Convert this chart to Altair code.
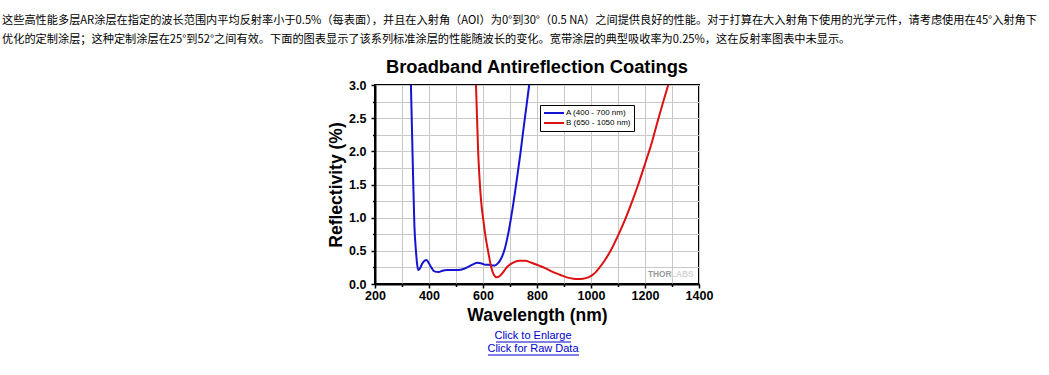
import altair as alt
import pandas as pd

# Series A (400 - 700 nm)
a_wl = [333, 336, 340, 346, 352, 356, 360, 366, 374, 383, 391, 400, 410, 420, 435, 450, 466,
        490, 509, 530, 550, 565, 579, 595, 610, 620, 635, 644, 655, 669, 680, 694, 710, 725,
        738, 749, 760, 771]
a_r = [3.0, 2.5, 1.8, 0.87, 0.48, 0.3, 0.21, 0.23, 0.3, 0.35, 0.36, 0.31, 0.24, 0.19, 0.18,
       0.20, 0.21, 0.21, 0.21, 0.23, 0.27, 0.30, 0.32, 0.31, 0.29, 0.29, 0.28, 0.28, 0.31,
       0.40, 0.52, 0.77, 1.15, 1.57, 1.95, 2.31, 2.65, 3.0]

# Series B (650 - 1050 nm)
b_wl = [574, 578, 582, 587, 593, 601, 610, 620, 630, 640, 651, 662, 675, 690, 710, 735, 756,
        780, 805, 830, 860, 885, 910, 935, 953, 970, 990, 1010, 1030, 1050, 1075, 1100, 1125,
        1150, 1175, 1200, 1225, 1250, 1270, 1286]
b_r = [3.0, 2.5, 2.0, 1.6, 1.25, 0.97, 0.7, 0.47, 0.26, 0.14, 0.10, 0.12, 0.18, 0.26, 0.32,
       0.35, 0.35, 0.32, 0.28, 0.24, 0.18, 0.14, 0.10, 0.08, 0.075, 0.08, 0.10, 0.15, 0.24,
       0.35, 0.52, 0.73, 0.96, 1.22, 1.5, 1.81, 2.13, 2.5, 2.78, 3.0]

series_names = ["A (400 - 700 nm)", "B (650 - 1050 nm)"]
series_colors = ["#1414d2", "#dd1111"]

x_ticks = list(range(200, 1401, 100))
y_ticks = [i * 0.25 for i in range(13)]

intro_lines = [
    "这些高性能多层AR涂层在指定的波长范围内平均反射率小于0.5%（每表面），并且在入射角（AOI）为0°到30°（0.5 NA）之间提供良好的性能。对于打算在大入射角下使用的光学元件，请考虑使用在45°入射角下",
    "优化的定制涂层；这种定制涂层在25°到52°之间有效。下面的图表显示了该系列标准涂层的性能随波长的变化。宽带涂层的典型吸收率为0.25%，这在反射率图表中未显示。",
]
link_lines = ["Click to Enlarge", "Click for Raw Data"]
chart_title = "Broadband Antireflection Coatings"

rows = []
for w, r in zip(a_wl, a_r):
    rows.append({"wl": w, "r": r, "s": series_names[0], "o": len(rows)})
for w, r in zip(b_wl, b_r):
    rows.append({"wl": w, "r": r, "s": series_names[1], "o": len(rows)})
df = pd.DataFrame(rows)

W, H = 324, 199
PL, PT = 375, 85

lines = alt.Chart(df).mark_line(strokeWidth=2, interpolate="monotone").encode(
    x=alt.X("wl:Q", scale=alt.Scale(domain=[200, 1400], nice=False),
            axis=alt.Axis(values=x_ticks, title="Wavelength (nm)",
                          labelExpr="datum.value % 200 == 0 ? datum.label : ''",
                          format="d", labelFlush=False, labelOverlap=False,
                          tickSize={"condition": {"test": "datum.value % 200 == 0", "value": 4}, "value": 2.5},
                          labelPadding=1, titlePadding=5)),
    y=alt.Y("r:Q", scale=alt.Scale(domain=[0, 3], nice=False),
            axis=alt.Axis(values=y_ticks, title="Reflectivity (%)",
                          labelExpr="datum.value % 0.5 == 0 ? format(datum.value, '.1f') : ''",
                          labelFlush=False, labelOverlap=False,
                          tickSize={"condition": {"test": "datum.value % 0.5 == 0", "value": 4}, "value": 2.5},
                          labelPadding=5, titlePadding=3)),
    color=alt.Color("s:N", scale=alt.Scale(domain=series_names, range=series_colors),
                    legend=alt.Legend(orient="none", legendX=165, legendY=20, title=None,
                                      symbolType="stroke", symbolSize=400, symbolStrokeWidth=2,
                                      labelFontSize=8, labelFont="Liberation Sans",
                                      strokeColor="black", fillColor="white",
                                      clipHeight=10, padding=3, rowPadding=0, labelOffset=1)),
    order="o:Q",
)

title_df = pd.DataFrame({"t": [chart_title]})
title_mark = alt.Chart(title_df).mark_text(font="Liberation Sans", fontWeight="bold", fontSize=18.3,
                                           align="center", baseline="middle", color="black").encode(
    x=alt.value(W / 2), y=alt.value(-17), text="t:N")

intro_df = pd.DataFrame({"t": intro_lines, "yy": [21 - PT, 40 - PT]})
intro_mark = alt.Chart(intro_df).mark_text(font="Noto Sans CJK SC", fontSize=11.2, align="left",
                                           baseline="middle", color="black").encode(
    x=alt.value(2 - PL), y=alt.Y("yy:Q", scale=None), text="t:N")

link_df = pd.DataFrame({"t": link_lines, "yy": [336 - PT, 349 - PT]})
link_mark = alt.Chart(link_df).mark_text(font="Liberation Sans", fontSize=11, align="center",
                                         baseline="middle", color="#0000cc").encode(
    x=alt.value(533 - PL), y=alt.Y("yy:Q", scale=None), text="t:N")

ul_df = pd.DataFrame({"x1": [496 - PL, 488 - PL], "x2": [571 - PL, 579 - PL], "yy": [342 - PT, 355 - PT]})
ul_mark = alt.Chart(ul_df).mark_rule(color="#0000cc", strokeWidth=1).encode(
    x=alt.X("x1:Q", scale=None), x2="x2:Q", y=alt.Y("yy:Q", scale=None))

wm_df = pd.DataFrame({"t": ["THOR", "LABS"], "c": ["#9a9a9a", "#d4d4d4"], "dx": [273, 296]})
wm_mark = alt.Chart(wm_df).mark_text(font="Liberation Sans", fontWeight="bold", fontSize=8.3,
                                     align="left", baseline="middle").encode(
    x=alt.X("dx:Q", scale=None), y=alt.value(190), text="t:N",
    color=alt.Color("c:N", scale=None))

chart = alt.layer(lines, title_mark, intro_mark, link_mark, ul_mark, wm_mark).resolve_scale(
    x="independent", y="independent", color="independent"
).properties(
    width=W, height=H,
    autosize=alt.AutoSizeParams(type="none"),
    padding={"left": PL, "top": PT, "right": 1049 - PL - W, "bottom": 375 - PT - H},
    background="white",
).configure_view(stroke="black", strokeWidth=2).configure_axis(
    grid=True, gridColor="#c8c8c8", gridWidth=1,
    domainColor="black", domainWidth=2, tickColor="black", tickWidth=1.5,
    labelFont="Liberation Sans", labelFontWeight="bold", labelFontSize=12.5, labelColor="black",
    titleFont="Liberation Sans", titleFontWeight="bold", titleFontSize=17.5, titleColor="black",
)

chart.save("out.html", embed_options={"renderer": "svg", "actions": False})
